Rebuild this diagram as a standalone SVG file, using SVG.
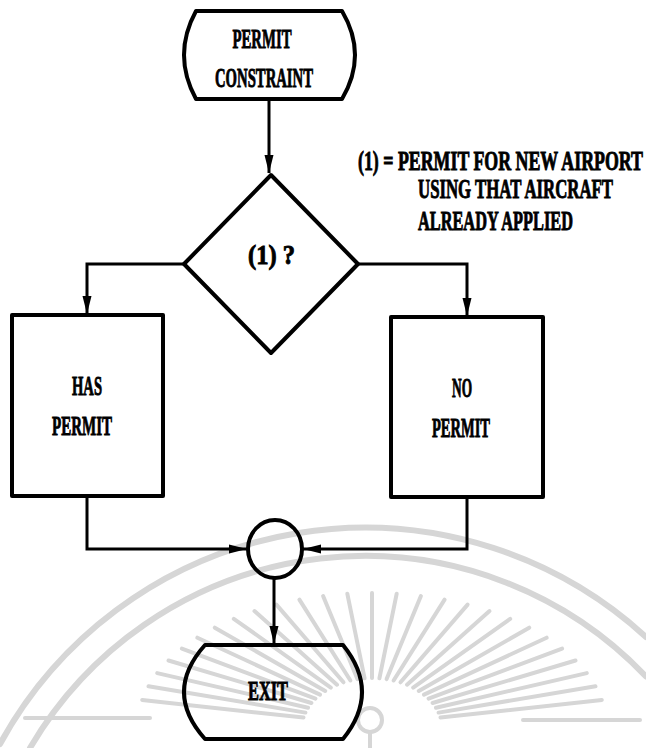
<svg xmlns="http://www.w3.org/2000/svg" width="646" height="748" viewBox="0 0 646 748">
<style>
.wm{fill:none;stroke:#d6d6d6;stroke-linecap:round}
.shape{fill:none;stroke:#000;stroke-width:4;stroke-linejoin:round}
.conn{fill:none;stroke:#000;stroke-width:3}
.t{font-family:"Liberation Serif","DejaVu Serif",serif;font-weight:bold;font-size:18px;fill:#000;stroke:#000;stroke-width:0.6}
.c{text-anchor:middle}
</style>
<defs>
<marker id="ah" markerUnits="userSpaceOnUse" markerWidth="20" markerHeight="10" refX="18" refY="5" orient="auto">
<path d="M0,0.5 L18,5 L0,9.5 Z" fill="#000"/>
</marker>
</defs>
<rect width="646" height="748" fill="#fff"/>
<g id="watermark" class="wm">
<path d="M0,744 A416,416 0 0 1 646,637" stroke-width="6"/>
<path d="M30,748 A388,388 0 0 1 646,676.5" stroke-width="6"/>
<g stroke-width="4">
<line x1="440.5" y1="717.6" x2="601.8" y2="699.9"/>
<line x1="438.6" y1="712.6" x2="595.5" y2="686.3"/>
<line x1="436" y1="707.7" x2="586.8" y2="673.1"/>
<line x1="432.6" y1="703" x2="575.5" y2="660.5"/>
<line x1="428.6" y1="698.6" x2="562.1" y2="648.6"/>
<line x1="424" y1="694.6" x2="546.6" y2="637.7"/>
<line x1="418.8" y1="690.9" x2="529.2" y2="627.7"/>
<line x1="413.2" y1="687.6" x2="510.2" y2="618.8"/>
<line x1="407" y1="684.7" x2="489.5" y2="611.1"/>
<line x1="400.5" y1="682.3" x2="467.6" y2="604.6"/>
<line x1="393.6" y1="680.5" x2="444.6" y2="599.6"/>
<line x1="386.6" y1="679.1" x2="420.9" y2="596"/>
<line x1="379.4" y1="678.3" x2="396.7" y2="593.7"/>
<line x1="372" y1="678" x2="372" y2="593"/>
<line x1="364.6" y1="678.3" x2="347.3" y2="593.7"/>
<line x1="357.4" y1="679.1" x2="323.1" y2="596"/>
<line x1="350.4" y1="680.5" x2="299.4" y2="599.6"/>
<line x1="343.5" y1="682.3" x2="276.4" y2="604.6"/>
<line x1="337" y1="684.7" x2="254.5" y2="611.1"/>
<line x1="330.8" y1="687.6" x2="233.8" y2="618.8"/>
<line x1="325.2" y1="690.9" x2="214.8" y2="627.7"/>
<line x1="320" y1="694.6" x2="197.4" y2="637.7"/>
<line x1="315.4" y1="698.6" x2="181.9" y2="648.6"/>
<line x1="311.4" y1="703" x2="168.5" y2="660.5"/>
<line x1="308" y1="707.7" x2="157.2" y2="673.1"/>
<line x1="305.4" y1="712.6" x2="148.5" y2="686.3"/>
<line x1="303.5" y1="717.6" x2="142.2" y2="699.9"/>
<line x1="25" y1="718" x2="150" y2="718"/>
<line x1="523" y1="720" x2="640" y2="720"/>
<circle cx="370" cy="720" r="12"/>
<line x1="370" y1="732" x2="370" y2="748"/>
</g>
</g>
<g id="connectors">
<path class="conn" d="M269,99 V173" marker-end="url(#ah)"/>
<path class="conn" d="M184,264 H87 V314" marker-end="url(#ah)"/>
<path class="conn" d="M358,264 H467 V316" marker-end="url(#ah)"/>
<path class="conn" d="M87,497 V549 H247" marker-end="url(#ah)"/>
<path class="conn" d="M467,497 V549 H303" marker-end="url(#ah)"/>
<path class="conn" d="M274,578 V644" marker-end="url(#ah)"/>
</g>
<g id="start">
<path class="shape" d="M196,11 H342 Q368,55 342,99 H196 Q172,55 196,11 Z"/>
<text class="t c" transform="translate(262,48) scale(1,1.55)" textLength="59" lengthAdjust="spacingAndGlyphs">PERMIT</text>
<text class="t c" transform="translate(264,87) scale(1,1.55)" textLength="98" lengthAdjust="spacingAndGlyphs">CONSTRAINT</text>
</g>
<g id="legend">
<text class="t" transform="translate(358,170) scale(1,1.55)" textLength="285" lengthAdjust="spacingAndGlyphs">(1) = PERMIT FOR NEW AIRPORT</text>
<text class="t" transform="translate(418,198) scale(1,1.55)" textLength="195" lengthAdjust="spacingAndGlyphs">USING THAT AIRCRAFT</text>
<text class="t" transform="translate(418,230) scale(1,1.55)" textLength="155" lengthAdjust="spacingAndGlyphs">ALREADY APPLIED</text>
</g>
<g id="decision">
<path class="shape" d="M271,175 L358,264 L271,353 L184,264 Z"/>
<text class="t c" transform="translate(271.5,264) scale(1,1.55)" textLength="47" lengthAdjust="spacingAndGlyphs">(1) ?</text>
</g>
<g id="has-permit">
<rect class="shape" x="12" y="315" width="151" height="181"/>
<text class="t c" transform="translate(87,395) scale(1,1.55)" textLength="30" lengthAdjust="spacingAndGlyphs">HAS</text>
<text class="t c" transform="translate(82,435) scale(1,1.55)" textLength="60" lengthAdjust="spacingAndGlyphs">PERMIT</text>
</g>
<g id="no-permit">
<rect class="shape" x="391" y="317" width="152" height="180"/>
<text class="t c" transform="translate(462,397) scale(1,1.55)" textLength="20" lengthAdjust="spacingAndGlyphs">NO</text>
<text class="t c" transform="translate(461,437) scale(1,1.55)" textLength="58" lengthAdjust="spacingAndGlyphs">PERMIT</text>
</g>
<g id="junction">
<ellipse class="shape" cx="275" cy="549" rx="27" ry="29"/>
</g>
<g id="exit">
<path class="shape" d="M205,645 H343 Q381,692 343,739 H205 Q163,692 205,645 Z"/>
<text class="t c" transform="translate(268,700) scale(1,1.55)" textLength="40" lengthAdjust="spacingAndGlyphs">EXIT</text>
</g>
</svg>
